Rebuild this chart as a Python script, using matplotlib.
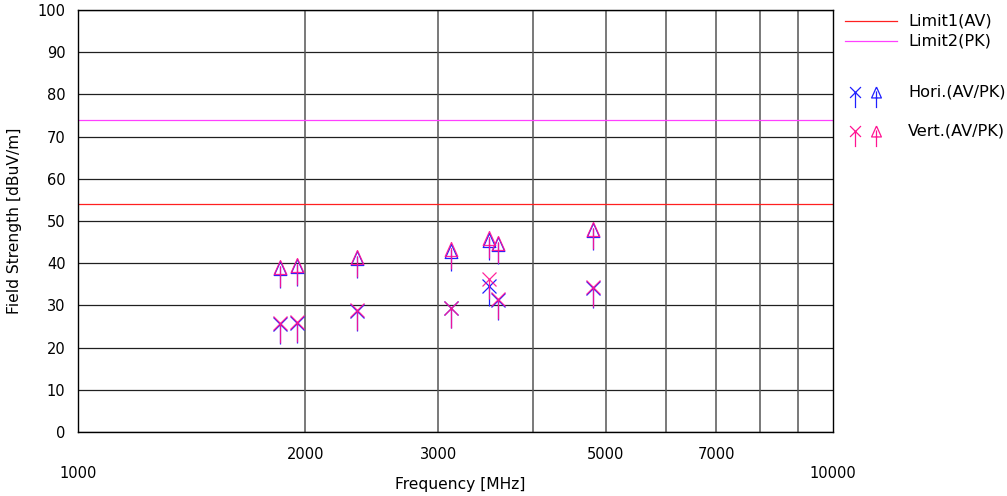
import matplotlib
matplotlib.use("Agg")
import matplotlib.pyplot as plt
from matplotlib.path import Path
from matplotlib.lines import Line2D

# Measurement data
freqs_mhz = [1852, 1950, 2342, 3119, 3503, 3600, 4810]
hori_av = [25.6, 25.8, 28.6, 29.3, 34.5, 31.2, 34.1]
vert_av = [25.8, 26.0, 28.8, 29.5, 36.3, 31.4, 34.3]
hori_pk = [38.8, 39.4, 41.3, 42.9, 45.6, 44.6, 47.8]
vert_pk = [39.0, 39.6, 41.5, 43.3, 46.0, 44.9, 48.0]

limit1_av = 54.0
limit2_pk = 74.0

x_ticks = [2000, 3000, 5000, 7000]
x_edge_ticks = [1000, 10000]
y_ticks = list(range(0, 101, 10))

BLUE = "#2020ff"
PINK = "#ff1493"
RED = "#ff2020"
VIOLET = "#ff40ff"
FS = 10.5
FS_LABEL = 11.2
FS_LEGEND = 11.6

# Custom markers: symbol with a downward stem
L = 1.43
x_path = Path([(-0.5, -0.5), (0.5, 0.5), (-0.5, 0.5), (0.5, -0.5), (0, 0), (0, -L)],
              [Path.MOVETO, Path.LINETO, Path.MOVETO, Path.LINETO, Path.MOVETO, Path.LINETO])
tri_path = Path([(0, 0.5), (0.45, -0.5), (-0.45, -0.5), (0, 0.5), (0, 0.1), (0, -L)],
                [Path.MOVETO, Path.LINETO, Path.LINETO, Path.LINETO, Path.MOVETO, Path.LINETO])
MS = 28.8

W, H = 1007, 496
fig = plt.figure(figsize=(W / 100, H / 100), dpi=100)
ax = fig.add_axes([78 / W, 1 - 432 / H, 755 / W, 422 / H])

ax.set_xscale("log")
ax.set_xlim(1000, 10000)
ax.set_ylim(0, 100)

# Grid
for y in y_ticks:
    ax.axhline(y, color="#202020", lw=0.9, zorder=1)
for f in range(2000, 10000, 1000):
    ax.axvline(f, color="#555555", lw=1.1, zorder=1)

ax.axhline(limit1_av, color=RED, lw=0.9, zorder=2)
ax.axhline(limit2_pk, color=VIOLET, lw=0.9, zorder=2)

kw = dict(linestyle="none", markersize=MS, markerfacecolor="none", markeredgewidth=0.9, zorder=3)
ax.plot(freqs_mhz, hori_av, marker=x_path, markeredgecolor=BLUE, **kw)
ax.plot(freqs_mhz, hori_pk, marker=tri_path, markeredgecolor=BLUE, **kw)
ax.plot(freqs_mhz, vert_av, marker=x_path, markeredgecolor=PINK, alpha=0.92, **kw)
ax.plot(freqs_mhz, vert_pk, marker=tri_path, markeredgecolor=PINK, alpha=0.92, **kw)

ax.set_yticks(y_ticks)
ax.set_yticklabels([str(v) for v in y_ticks], fontsize=FS)
ax.set_xticks([])
ax.minorticks_off()
ax.tick_params(axis="y", length=0, pad=9)
for s in ax.spines.values():
    s.set_color("black")
    s.set_linewidth(1.0)

# X tick labels on two rows
for f in x_ticks:
    ax.text(f, -5.3, str(f), ha="center", va="center", fontsize=FS)
for f in x_edge_ticks:
    ax.text(f, -9.8, str(f), ha="center", va="center", fontsize=FS)

fig.text(460 / W, 1 - 484 / H, "Frequency [MHz]", ha="center", va="center", fontsize=FS_LABEL)
fig.text(15 / W, 1 - 221 / H, "Field Strength [dBuV/m]", ha="center", va="center",
         rotation=90, fontsize=FS_LABEL)

# Legend drawn on the figure
def fx(px):
    return px / W

def fy(py):
    return 1 - py / H

fig.add_artist(Line2D([fx(845), fx(897)], [fy(21), fy(21)], color=RED, lw=0.9))
fig.add_artist(Line2D([fx(845), fx(897)], [fy(41), fy(41)], color=VIOLET, lw=0.9))
fig.text(fx(908), fy(21), "Limit1(AV)", va="center", fontsize=FS_LEGEND)
fig.text(fx(908), fy(41), "Limit2(PK)", va="center", fontsize=FS_LEGEND)

lkw = dict(linestyle="none", markersize=MS * 0.78, markerfacecolor="none", markeredgewidth=0.9)
fig.add_artist(Line2D([fx(855)], [fy(92)], marker=x_path, markeredgecolor=BLUE, **lkw))
fig.add_artist(Line2D([fx(876)], [fy(92)], marker=tri_path, markeredgecolor=BLUE, **lkw))
fig.add_artist(Line2D([fx(855)], [fy(131)], marker=x_path, markeredgecolor=PINK, **lkw))
fig.add_artist(Line2D([fx(876)], [fy(131)], marker=tri_path, markeredgecolor=PINK, **lkw))
fig.text(fx(908), fy(92), "Hori.(AV/PK)", va="center", fontsize=FS_LEGEND)
fig.text(fx(908), fy(131), "Vert.(AV/PK)", va="center", fontsize=FS_LEGEND)

fig.savefig("out.png", dpi=100)
